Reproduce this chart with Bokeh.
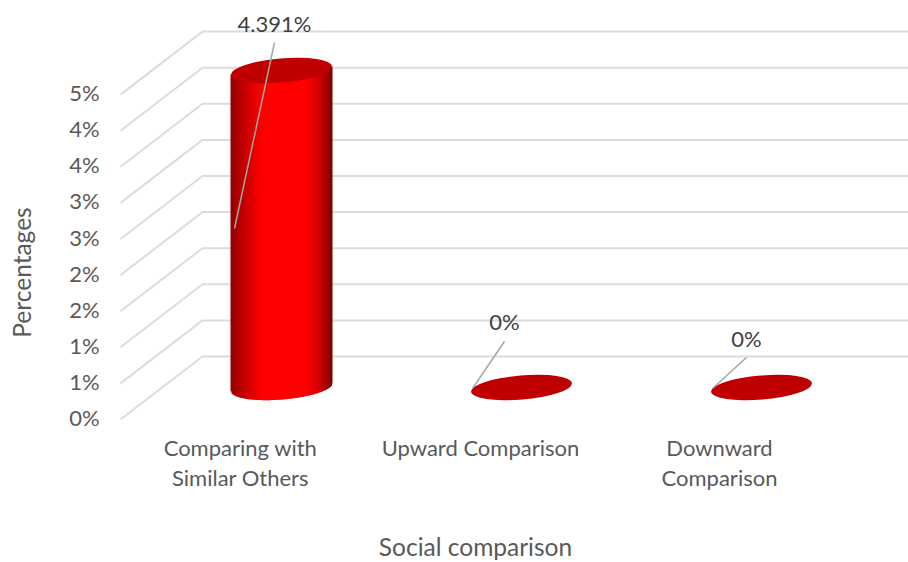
from bokeh.plotting import figure
from bokeh.core.properties import value
from bokeh.embed import file_html
from bokeh.resources import INLINE
import numpy as np

# Chart data
categories = [["Comparing with", "Similar Others"], ["Upward Comparison"], ["Downward", "Comparison"]]
percentages = [4.391, 0.0, 0.0]
value_labels = ["4.391%", "0%", "0%"]
tick_values = [0.0, 0.5, 1.0, 1.5, 2.0, 2.5, 3.0, 3.5, 4.0, 4.5]
tick_labels = ["0%", "1%", "1%", "2%", "2%", "3%", "3%", "4%", "4%", "5%"]

W, H = 908, 562
PX_PER_PCT = 72.2      # vertical pixels per percentage point
PX_PER_CAT = 240.0     # horizontal pixels per category
X0_PX, Y0_PX = 281.0, 356.0   # first category column, floor of the back wall


def sx(px):
    """Screen x to category units."""
    return 1 + (px - X0_PX) / PX_PER_CAT


def sy(px):
    """Screen y to percentage units."""
    return (Y0_PX - px) / PX_PER_PCT


p = figure(width=W, height=H, output_backend="svg", toolbar_location=None,
           x_range=(sx(0), sx(W)), y_range=(sy(H), sy(0)),
           min_border=0, outline_line_color=None)
p.axis.visible = False
p.grid.visible = False

FONT = value("Lato")
GRID = "#dcdcdc"

# 3D walls: each gridline runs along the back wall and folds down the side wall
DEPTH_X, DEPTH_Y = 82, 63
xs, ys = [], []
for t in tick_values:
    xs.append([sx(202 - DEPTH_X), sx(202), sx(W)])
    ys.append([t - DEPTH_Y / PX_PER_PCT, t, t])
p.multi_line(xs, ys, line_color=GRID, line_width=2)

# Cylinders
A, B, TILT = 50.6, 12.0, np.deg2rad(4.8)
BASE = sy(387)
HW2 = (A * np.cos(TILT)) ** 2 + (B * np.sin(TILT)) ** 2
HH2 = (A * np.sin(TILT)) ** 2 + (B * np.cos(TILT)) ** 2
SXY = (A ** 2 - B ** 2) * np.sin(TILT) * np.cos(TILT)
SLOPE = SXY / HW2   # rise of the ellipse's centre line per pixel


def shade(f):
    """Horizontal cylinder shading, f runs from 0 (left edge) to 1 (right edge)."""
    if f < 0.32:
        k = f / 0.32
        return (int(140 + 115 * k ** 0.8), 0, 0)
    if f > 0.70:
        k = (f - 0.70) / 0.30
        return (int(255 - 135 * k ** 1.8), 0, 0)
    return (255, 0, 0)


def lower_edge(dx):
    """Screen drop of the lower rim of the tilted ellipse at horizontal offset dx."""
    det = HW2 * HH2 - SXY ** 2
    return -SLOPE * dx + np.sqrt(max(det * (1 - dx ** 2 / HW2), 0) / HW2)


for i, pct in enumerate(percentages):
    cx_px = X0_PX + i * PX_PER_CAT
    if pct > 0:
        half = int(np.ceil(np.sqrt(HW2)))
        left, right, bottom, top, colors = [], [], [], [], []
        for a in range(-half, half):
            mid = a + 0.5
            left.append(sx(cx_px + a))
            right.append(sx(cx_px + a + 1.5 if a < half - 1 else cx_px + a + 1))
            bottom.append(BASE - lower_edge(mid) / PX_PER_PCT)
            top.append(BASE + pct + SLOPE * mid / PX_PER_PCT)
            colors.append("#%02x%02x%02x" % shade((mid + half) / (2 * half)))
        p.quad(left=left, right=right, bottom=bottom, top=top,
               fill_color=colors, line_color=None)
    p.ellipse([sx(cx_px)], [BASE + pct], width=2 * A, height=2 * B, angle=TILT,
              width_units="screen", height_units="screen",
              fill_color="#c00000", line_color=None)

# Leader lines from the value labels to their marks
leader_x = [[sx(274), sx(234)], [sx(504), sx(472)], [sx(746), sx(712)]]
leader_y = [[sy(42), sy(228)], [sy(341), sy(388)], [sy(357), sy(388)]]
p.multi_line(leader_x, leader_y, line_color="#a6a6a6", line_width=1.5)

# Value labels
p.text([sx(274), sx(504), sx(746)], [sy(23), sy(321), sy(338)], text=value_labels,
       text_font=FONT, text_font_size="22px", text_color="#404040",
       text_align="center", text_baseline="middle")

# Value axis labels, placed at the front edge of the side wall
p.text([sx(84)] * len(tick_values),
       [t - 61 / PX_PER_PCT for t in tick_values], text=tick_labels,
       text_font=FONT, text_font_size="22px", text_color="#595959",
       text_align="center", text_baseline="middle")

# Category labels
for cx, y_lines in zip([240, 480, 719], categories):
    for j, line in enumerate(y_lines):
        p.text([sx(cx)], [sy(447 + 30 * j)], text=[line],
               text_font=FONT, text_font_size="22px", text_color="#595959",
               text_align="center", text_baseline="middle")

# Axis titles
p.text([sx(475)], [sy(546)], text=["Social comparison"],
       text_font=FONT, text_font_size="24.5px", text_color="#595959",
       text_align="center", text_baseline="middle")
p.text([sx(21)], [sy(272)], text=["Percentages"], angle=np.pi / 2,
       text_font=FONT, text_font_size="24.5px", text_color="#595959",
       text_align="center", text_baseline="middle")

open("out.html", "w").write(file_html(p, INLINE))
